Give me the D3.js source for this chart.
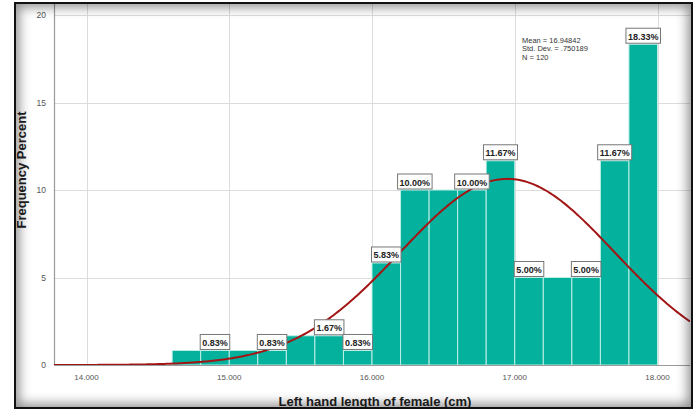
<!DOCTYPE html>
<html>
<head>
<meta charset="utf-8">
<script src="https://cdn.jsdelivr.net/npm/d3@7"></script>
<style>
  html, body { margin: 0; padding: 0; background: #fff; }
  #wrap { position: relative; width: 699px; height: 411px; overflow: hidden; }
  #frame {
    position: absolute; left: 14px; top: 2px; width: 675px; height: 403px;
    border: 2px solid #111;
    box-shadow: inset 0 0 12px 3px rgba(0,0,0,0.45);
    pointer-events: none;
  }
  svg { position: absolute; left: 0; top: 0; font-family: "Liberation Sans", Arial, sans-serif; }
</style>
</head>
<body>
<div id="wrap">
  <svg id="chart" width="699" height="411"></svg>
  <div id="frame"></div>
</div>
<script>
// Histogram bins: lower edge of each 0.2 cm bin and its percent of cases
const binStarts = [14.6, 14.8, 15.0, 15.2, 15.4, 15.6, 15.8, 16.0, 16.2, 16.4, 16.6, 16.8, 17.0, 17.2, 17.4, 17.6, 17.8];
const percents  = [0.83, 0.83, 0.83, 0.83, 1.67, 1.67, 0.83, 5.83, 10.00, 10.00, 10.00, 11.67, 5.00, 5.00, 5.00, 11.67, 18.33];
// Which bars carry a value label
const showLabel = [false, true, false, true, false, true, true, true, true, false, true, true, true, false, true, true, true];
const binWidth = 0.2;

const xTicks = [14, 15, 16, 17, 18];
const yTicks = [0, 5, 10, 15, 20];

// Normal fit summary
const meanVal = 16.94842;
const sdVal = 0.750189;
const nVal = 120;
const statLines = ["Mean = 16.94842", "Std. Dev. = .750189", "N = 120"];

const xTitle = "Left hand length of female (cm)";
const yTitle = "Frequency Percent";

const svg = d3.select("#chart");

const plot = { left: 54, right: 690, top: 4, bottom: 365 };

const x = d3.scaleLinear().domain([14, 18]).range([86.5, 657.5]);
const y = d3.scaleLinear().domain([0, 20]).range([plot.bottom, 15]);

const xMin = x.invert(plot.left), xMax = x.invert(plot.right);

svg.append("defs").append("clipPath").attr("id", "plotClip")
  .append("rect")
  .attr("x", plot.left).attr("y", plot.top)
  .attr("width", plot.right - plot.left).attr("height", plot.bottom - plot.top);

// Grid lines
const grid = svg.append("g").attr("stroke", "#dcdcdc").attr("stroke-width", 1);
yTicks.filter(d => d > 0).forEach(d => {
  grid.append("line")
    .attr("x1", plot.left).attr("x2", plot.right)
    .attr("y1", Math.round(y(d)) + 0.5).attr("y2", Math.round(y(d)) + 0.5);
});
xTicks.forEach(d => {
  grid.append("line")
    .attr("x1", Math.round(x(d)) + 0.5).attr("x2", Math.round(x(d)) + 0.5)
    .attr("y1", plot.top).attr("y2", plot.bottom);
});

// Bars
svg.append("g").selectAll("rect").data(binStarts).join("rect")
  .attr("x", d => x(d))
  .attr("width", d => x(d + binWidth) - x(d))
  .attr("y", (d, i) => y(percents[i]))
  .attr("height", (d, i) => plot.bottom - y(percents[i]))
  .attr("fill", "#03b19d")
  .attr("stroke", "#bfeee6")
  .attr("stroke-width", 1);

// Axis lines
svg.append("line")
  .attr("x1", plot.left + 0.5).attr("x2", plot.left + 0.5)
  .attr("y1", plot.top).attr("y2", plot.bottom)
  .attr("stroke", "#9a9a9a").attr("stroke-width", 1.2);
svg.append("line")
  .attr("x1", plot.left).attr("x2", plot.right)
  .attr("y1", plot.bottom + 0.5).attr("y2", plot.bottom + 0.5)
  .attr("stroke", "#9a9a9a").attr("stroke-width", 1.2);

// Normal curve scaled to percent per bin
const scaleFactor = binWidth * 100 / (sdVal * Math.sqrt(2 * Math.PI));
const curvePts = d3.range(0, 301).map(i => {
  const v = xMin + (xMax - xMin) * i / 300;
  const z = (v - meanVal) / sdVal;
  return [v, scaleFactor * Math.exp(-0.5 * z * z)];
});
svg.append("path")
  .datum(curvePts)
  .attr("clip-path", "url(#plotClip)")
  .attr("fill", "none")
  .attr("stroke", "#a31515")
  .attr("stroke-width", 2)
  .attr("d", d3.line().x(d => x(d[0])).y(d => y(d[1])));

// Value labels
const fmtPct = d => d3.format(".2f")(d) + "%";
const labels = svg.append("g");
binStarts.forEach((d, i) => {
  if (!showLabel[i]) return;
  const cx = x(d + binWidth / 2);
  const top = y(percents[i]);
  const g = labels.append("g");
  const t = g.append("text")
    .attr("x", cx).attr("y", top - 4.5)
    .attr("text-anchor", "middle")
    .attr("font-size", 9).attr("font-weight", "bold")
    .attr("fill", "#222")
    .text(fmtPct(percents[i]));
  const w = t.node().getComputedTextLength() + 4;
  g.insert("rect", "text")
    .attr("x", cx - w / 2).attr("y", top - 16)
    .attr("width", w).attr("height", 15)
    .attr("fill", "#fff").attr("stroke", "#777").attr("stroke-width", 1);
});

// Tick labels
svg.append("g").selectAll("text").data(xTicks).join("text")
  .attr("x", d => x(d)).attr("y", 380)
  .attr("text-anchor", "middle")
  .attr("font-size", 8).attr("fill", "#555")
  .text(d => d3.format(".3f")(d));
svg.append("g").selectAll("text").data(yTicks).join("text")
  .attr("x", 46).attr("y", d => y(d) + 3)
  .attr("text-anchor", "end")
  .attr("font-size", 8.5).attr("fill", "#555")
  .text(d => d);

// Axis titles
svg.append("text")
  .attr("x", 375).attr("y", 406)
  .attr("text-anchor", "middle")
  .attr("font-size", 13).attr("font-weight", "bold").attr("fill", "#222")
  .text(xTitle);
svg.append("text")
  .attr("transform", "translate(26,170) rotate(-90)")
  .attr("text-anchor", "middle")
  .attr("font-size", 13).attr("font-weight", "bold").attr("fill", "#222")
  .text(yTitle);

// Fit statistics
svg.append("g").selectAll("text").data(statLines).join("text")
  .attr("x", 522).attr("y", (d, i) => 43 + i * 8.3)
  .attr("font-size", 7.5).attr("fill", "#333")
  .text(d => d);
</script>
</body>
</html>
